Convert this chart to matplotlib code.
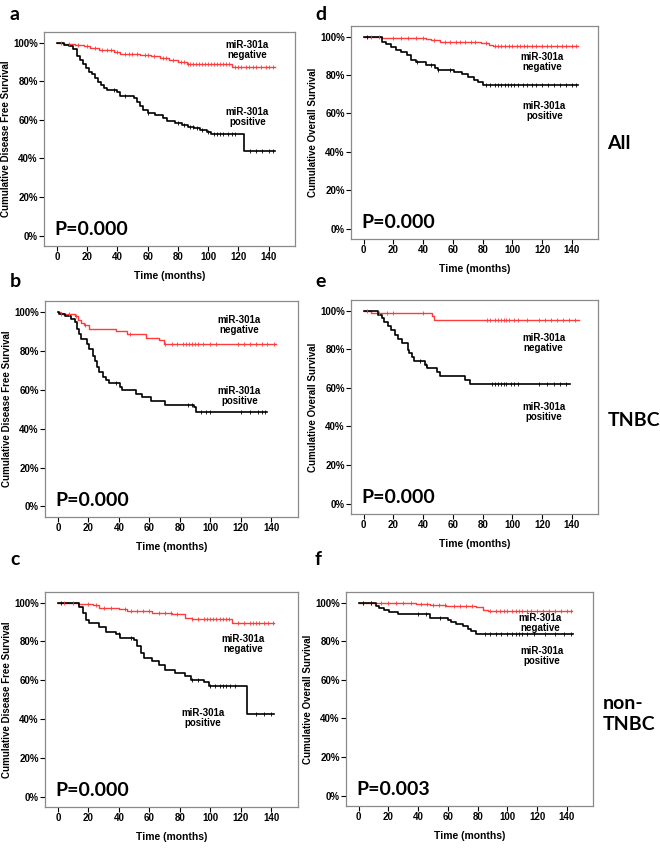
import matplotlib
matplotlib.use('Agg')
import matplotlib.pyplot as plt
import numpy as np

# ---------------- data ----------------
# Each curve: step times (months) and cumulative survival (%) after that time
a_neg_t = [0, 5, 12, 18, 22, 28, 38, 42, 55, 62, 68, 74, 80, 86, 116, 144]
a_neg_s = [100, 99.5, 99, 98, 97, 96, 95, 94, 93.5, 93, 92, 91, 90, 89, 87.3, 87.3]
a_neg_c = [3, 8, 14, 20, 25, 30, 33, 36, 40, 45, 48, 50, 53, 58, 60, 64, 70, 72, 77, 82, 84, 87,
           88, 90, 92, 94, 96, 98, 100, 102, 104, 106, 108, 110, 112, 114, 118, 120, 122, 125,
           127, 130, 132, 135, 138, 140, 143]
a_pos_t = [0, 5, 8, 11, 13, 15, 17, 19, 21, 23, 25, 27, 29, 31, 33, 40, 42, 51, 53, 55, 57, 60,
           65, 70, 73, 78, 83, 87, 91, 95, 99, 102, 124, 144]
a_pos_s = [100, 99, 98, 96.5, 93, 91, 89, 87, 85, 83.5, 81.5, 79.5, 78, 76.5, 75.5, 74.5, 72.5,
           71.5, 69, 67, 65, 63.5, 62.5, 61, 59.5, 58.5, 57.5, 56.5, 55.5, 54.5, 53.5, 52.5, 43.6, 43.6]
a_pos_c = [38, 45, 60, 80, 84, 88, 90, 93, 96, 100, 104, 106, 108, 110, 113, 116, 118, 128, 132,
           136, 140, 143]

d_neg_t = [0, 12, 42, 45, 51, 79, 84, 87, 144]
d_neg_s = [100, 99.5, 98.6, 98, 97.2, 96.5, 95.8, 95.3, 95.3]
d_neg_c = [5, 10, 20, 25, 30, 35, 40, 47, 55, 58, 62, 65, 68, 72, 75, 82, 88, 90, 92, 95, 98, 100,
           103, 105, 108, 110, 113, 116, 120, 123, 126, 130, 133, 136, 140, 143]
d_pos_t = [0, 12, 15, 18.7, 22, 25.4, 28.8, 32, 35.5, 42, 48, 50, 61, 66, 70, 74, 77, 80, 144]
d_pos_s = [100, 97.4, 96, 94.8, 93, 91.9, 90.5, 87.9, 86.5, 85.3, 83.6, 82.4, 81.8, 80.6, 79.2,
           77.5, 76.1, 74.6, 74.6]
d_pos_c = [2, 36, 45, 50, 58, 82, 85, 88, 90, 92, 95, 97, 99, 101, 104, 107, 110, 113, 116, 120,
           124, 128, 132, 136, 140, 143]

b_neg_t = [0, 2, 11.5, 13, 15, 17, 20.6, 38, 45.6, 57.5, 66, 69.5, 143]
b_neg_s = [100, 99, 97.8, 96, 94.4, 93.2, 91.3, 90, 88.7, 86.7, 85.3, 83.3, 83.3]
b_neg_c = [2, 7, 12, 18, 47, 70, 75, 78, 82, 84, 86, 88, 90, 92, 95, 100, 104, 118, 122, 126,
           130, 134, 137, 142]
b_pos_t = [0, 1, 4.3, 8.7, 11, 12.4, 13.5, 15.2, 19, 20.6, 22.8, 24.3, 25.6, 27, 29.3, 31.5,
           33.6, 41, 42.3, 51, 55.3, 60.8, 70.5, 89, 90.5, 137]
b_pos_s = [100, 99, 97.8, 96.4, 94.7, 91, 88.4, 86.2, 83.3, 80.7, 77.3, 74.7, 71.8, 69, 66.6,
           65, 63.3, 61.6, 59.7, 58, 56, 54.3, 52.2, 50.9, 48.6, 48.6]
b_pos_c = [38, 85, 88, 94, 97, 100, 120, 126, 131, 134, 136]

e_neg_t = [0, 5, 45.8, 47.5, 145]
e_neg_s = [100, 98.8, 97, 95.3, 95.3]
e_neg_c = [2, 10, 16, 20, 40, 83, 85, 88, 90, 92, 94, 96, 98, 101, 104, 110, 118, 122, 126, 130,
           134, 138, 142]
e_pos_t = [0, 9.7, 12, 14, 16.5, 18.7, 21, 23.2, 25.5, 29.5, 30.7, 32.2, 34, 41.3, 42.8, 49,
           51.4, 68.3, 71.7, 78.4, 139]
e_pos_s = [100, 97.9, 96.2, 94, 91.9, 90.2, 87.6, 85.3, 83.3, 79.8, 78.1, 76, 73.8, 72, 70.3,
           68.3, 66, 64.3, 62, 62, 62]
e_pos_c = [38, 42, 86, 88, 90, 92, 94, 96, 99, 101, 104, 118, 123, 128, 132, 136]

c_neg_t = [0, 6.5, 13, 22.8, 27, 40, 45.6, 62, 75, 83.6, 88, 114, 142]
c_neg_s = [100, 99.7, 99.3, 98.8, 97.4, 96.6, 95.7, 94.9, 94, 92, 91.4, 89.4, 89.4]
c_neg_c = [4, 10, 20, 25, 30, 35, 44, 48, 52, 56, 60, 66, 70, 74, 78, 88, 92, 96, 98, 100, 102,
           104, 106, 108, 110, 112, 118, 122, 126, 128, 130, 132, 135, 138, 141]
c_pos_t = [0, 7.6, 14, 16.3, 18.5, 20.6, 27, 31.5, 38, 41, 50, 52, 54.3, 56.4, 62, 66, 70.5, 77,
           83.6, 87, 95.5, 98.8, 124, 142]
c_pos_s = [100, 99.7, 98, 94.5, 91, 89.4, 87.7, 85, 84, 81.7, 80.8, 77.4, 74, 71.5, 69.7, 68,
           65.4, 63.7, 62, 60.3, 59, 56.8, 42.6, 42.6]
c_pos_c = [2, 40, 48, 88, 92, 100, 103, 106, 108, 110, 113, 116, 130, 135, 140]

f_neg_t = [0, 38.7, 47.7, 59, 79, 83.7, 87, 143.5]
f_neg_s = [100, 99.5, 99, 98.3, 97.8, 96.4, 95.5, 95.5]
f_neg_c = [3, 8, 15, 20, 25, 30, 35, 42, 46, 50, 54, 58, 64, 68, 72, 76, 88, 92, 95, 98, 100, 103,
           106, 108, 110, 113, 116, 120, 124, 128, 132, 136, 140, 143]
f_pos_t = [0, 11.7, 14, 17.3, 20.7, 26.3, 47.7, 60, 62.3, 65.7, 70, 73.6, 75.8, 79.2, 144]
f_pos_s = [100, 98.3, 97.4, 96.4, 95.2, 94, 92.2, 91.2, 90, 88.8, 87.7, 86.3, 85.1, 83.6, 83.6]
f_pos_c = [3, 8, 40, 45, 55, 85, 88, 92, 96, 100, 103, 106, 108, 110, 113, 118, 125, 132, 138, 143]

p_values = {'a': 'P=0.000', 'b': 'P=0.000', 'c': 'P=0.000',
            'd': 'P=0.000', 'e': 'P=0.000', 'f': 'P=0.003'}
x_ticks = [0, 20, 40, 60, 80, 100, 120, 140]
y_ticks = [0, 20, 40, 60, 80, 100]
y_tick_labels = ['0%', '20%', '40%', '60%', '80%', '100%']
dfs_label = 'Cumulative Disease Free Survival'
os_label = 'Cumulative Overall Survival'
x_label = 'Time (months)'
group_labels = ['All', 'TNBC', 'non-\nTNBC']

# ---------------- layout ----------------
W, H = 660, 848
fig = plt.figure(figsize=(W / 100, H / 100), dpi=100)

def box(l, r, t, b):
    return [l / W, 1 - b / H, (r - l) / W, (b - t) / H]

NEG = '#ff3b3b'
POS = '#000000'
TICKFONT = dict(family='Liberation Sans', weight='bold', size=7)
LABFONT = dict(family='Liberation Sans', weight='bold', size=7)
BIGFONT = dict(family='Lato', weight='bold', size=14)

panels = [
    ('a', box(44, 295, 32, 246), dfs_label,
     (a_neg_t, a_neg_s, a_neg_c), (a_pos_t, a_pos_s, a_pos_c), (126, 96.4), (126, 61.7)),
    ('d', box(351, 598, 26, 239), os_label,
     (d_neg_t, d_neg_s, d_neg_c), (d_pos_t, d_pos_s, d_pos_c), (120, 87), (121.5, 61)),
    ('b', box(45, 298, 301, 517), dfs_label,
     (b_neg_t, b_neg_s, b_neg_c), (b_pos_t, b_pos_s, b_pos_c), (119, 93.4), (119, 56.6)),
    ('e', box(351, 598, 300, 514), os_label,
     (e_neg_t, e_neg_s, e_neg_c), (e_pos_t, e_pos_s, e_pos_c), (121, 83.4), (121, 47.4)),
    ('c', box(45, 298, 592, 807), dfs_label,
     (c_neg_t, c_neg_s, c_neg_c), (c_pos_t, c_pos_s, c_pos_c), (121.7, 78.5), (95, 40.7)),
    ('f', box(346, 593, 592, 806), os_label,
     (f_neg_t, f_neg_s, f_neg_c), (f_pos_t, f_pos_s, f_pos_c), (122, 89.4), (123, 72.5)),
]

def draw_curve(ax, t, s, cens, color, lw):
    t = np.asarray(t, float)
    s = np.asarray(s, float)
    ax.step(t, s, where='post', color=color, lw=lw, zorder=3)
    c = np.asarray(cens, float)
    idx = np.searchsorted(t, c, side='right') - 1
    ax.plot(c, s[idx], linestyle='none', marker='|', ms=3.2, mew=0.6,
            color=color, zorder=4)

for key, rect, ylab, neg, pos, neg_xy, pos_xy in panels:
    ax = fig.add_axes(rect)
    draw_curve(ax, *neg, NEG, 1.0)
    draw_curve(ax, *pos, POS, 1.2)
    ax.set_xlim(-8.5, 157.5)
    ax.set_ylim(-5.4, 105.5)
    ax.set_xticks(x_ticks)
    ax.set_xticklabels([str(v) for v in x_ticks], fontdict=TICKFONT)
    ax.set_yticks(y_ticks)
    ax.set_yticklabels(y_tick_labels, fontdict=TICKFONT)
    ax.tick_params(direction='out', length=3.5, width=0.8, pad=1.0, colors='black')
    for side in ['top', 'right', 'left', 'bottom']:
        ax.spines[side].set_color('#8a8a8a')
        ax.spines[side].set_linewidth(0.9)
    ax.set_ylabel(ylab, fontdict=LABFONT, labelpad=1.5)
    ax.set_xlabel(x_label, fontdict=dict(family='Liberation Sans', weight='bold', size=7.5),
                  labelpad=6)
    ax.text(neg_xy[0], neg_xy[1], 'miR-301a\nnegative', ha='center', va='center',
            fontdict=TICKFONT, linespacing=1.0)
    ax.text(pos_xy[0], pos_xy[1], 'miR-301a\npositive', ha='center', va='center',
            fontdict=TICKFONT, linespacing=1.0)
    ax.text(0.04, 0.05, p_values[key], transform=ax.transAxes, ha='left', va='baseline',
            fontdict=BIGFONT)

# panel letters
letter_pos = {'a': (10, 20), 'd': (315, 20), 'b': (10, 287),
              'e': (315, 287), 'c': (10, 565), 'f': (315, 565)}
for k, (x, y) in letter_pos.items():
    fig.text(x / W, 1 - y / H, k, ha='left', va='baseline', fontdict=BIGFONT)

# group labels
fig.text(607 / W, 1 - 149 / H, group_labels[0], ha='left', va='baseline', fontdict=BIGFONT)
fig.text(608 / W, 1 - 426 / H, group_labels[1], ha='left', va='baseline', fontdict=BIGFONT)
fig.text(603 / W, 1 - 730 / H, group_labels[2], ha='left', va='baseline', fontdict=BIGFONT,
         linespacing=1.3)

fig.savefig('out.png', dpi=100, facecolor='white')
